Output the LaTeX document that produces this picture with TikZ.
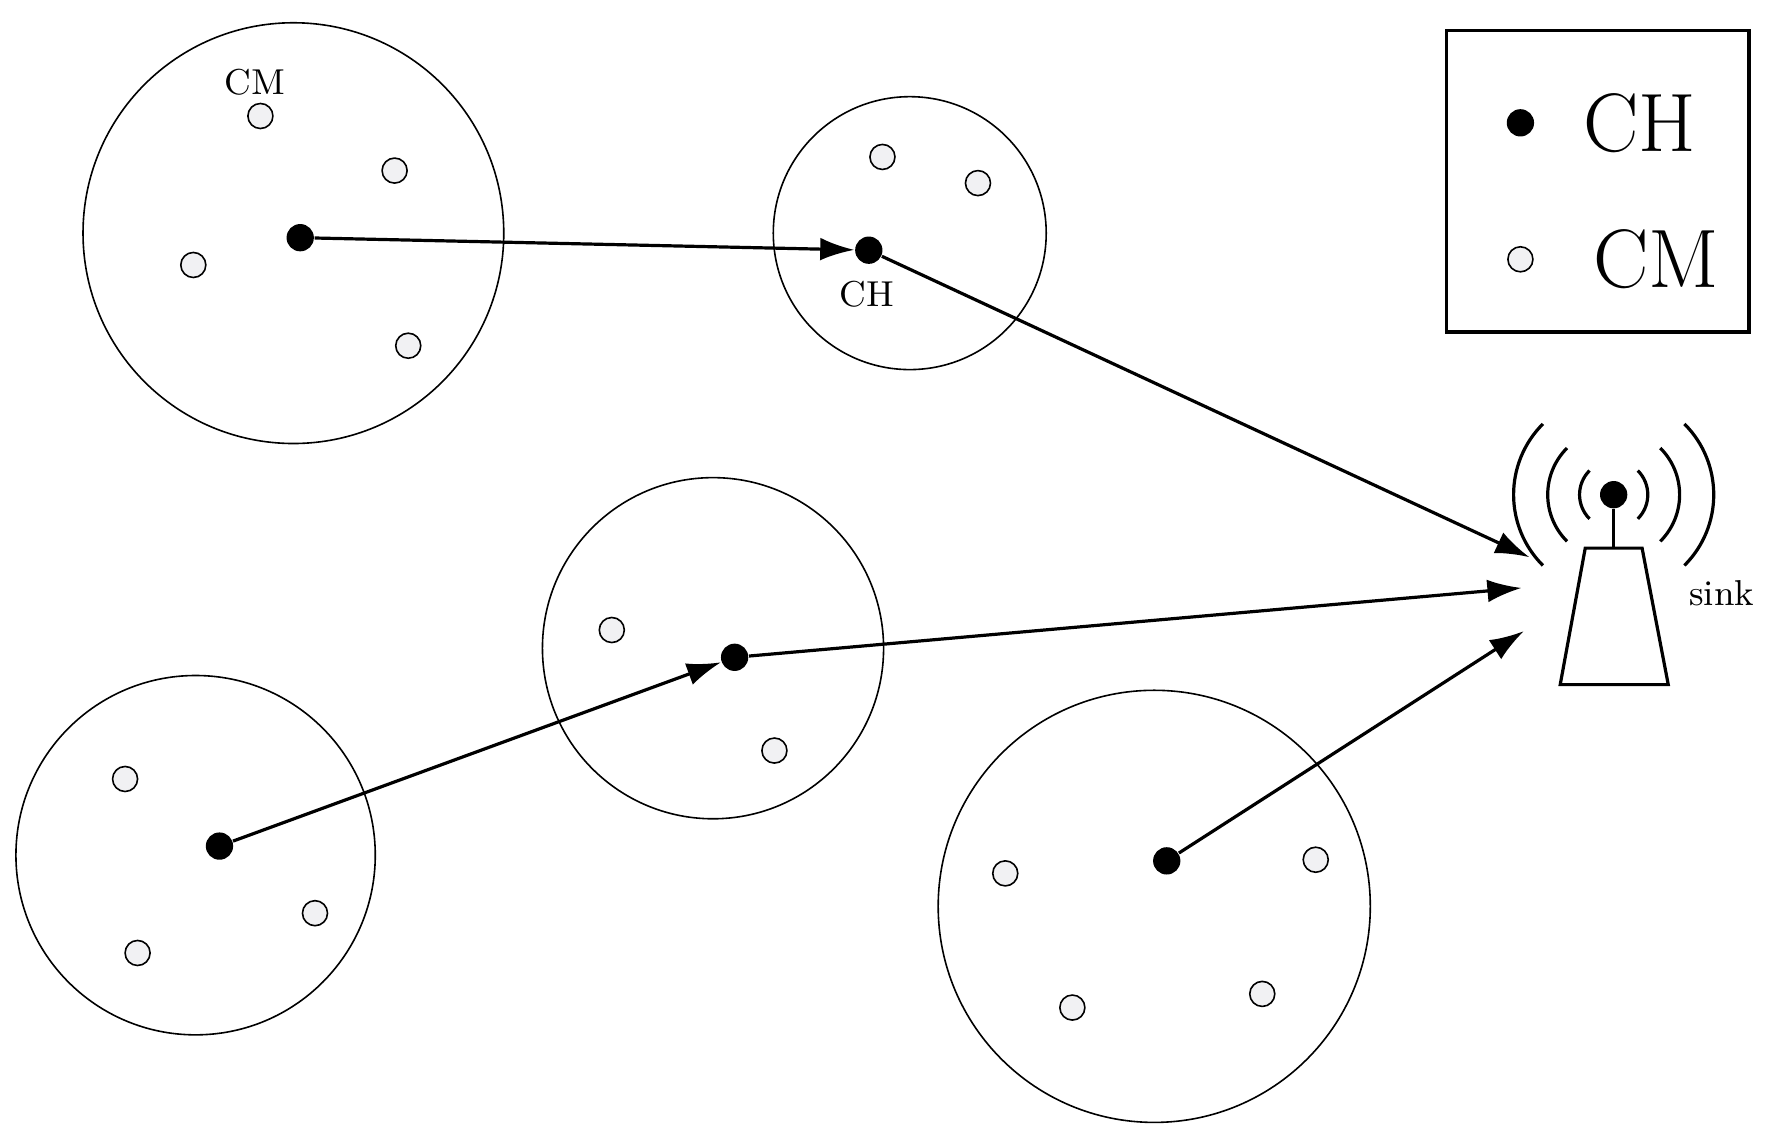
\documentclass[tikz,border=0pt]{standalone}
\usetikzlibrary{arrows.meta}
\begin{document}
\begin{tikzpicture}[x=0.01cm, y=-0.01cm,
    head/.style={circle, fill=black, inner sep=0pt, minimum size=0.24cm},
    member/.style={circle, draw=black, fill=blue!8!gray!10, inner sep=0pt, minimum size=0.22cm},
    link/.style={thick, -{Latex[length=0.3cm, width=0.2cm]}},
    cluster/.style={thin}]
    \useasboundingbox (0,0) rectangle (1560,996);
    % clusters
    \draw[cluster] (258,205) circle (185);
    \draw[cluster] (800,205) circle (120);
    \draw[cluster] (627,570) circle (150);
    \draw[cluster] (172,752) circle (158);
    \draw[cluster] (1015,797) circle (190);
    % cluster heads
    \node[head] (h1) at (264,209) {};
    \node[head] (h2) at (764,220) {};
    \node[head] (h3) at (646,578) {};
    \node[head] (h4) at (193,744) {};
    \node[head] (h5) at (1026,757) {};
    % cluster members
    \foreach \x/\y [count=\i] in {229/102,347/150,170/233,359/304,776/138,860/161,
        538/554,681/660,110/685,277/803,121/838,884/768,1157/756,943/886,1110/874}
        \node[member] (m\i) at (\x,\y) {};
    \node[font=\small] at (224,72) {CM};
    \node[font=\small] at (762,259) {CH};
    % sink
    \node[head] (ant) at (1419,435) {};
    \draw[thick] (ant) -- (1419,482);
    \draw[thick] (1394,482) -- (1444,482) -- (1467,602) -- (1372,602) -- cycle;
    \foreach \r in {30,58,88}
    {
        \draw[thick] (1419,435) ++(135:\r) arc[start angle=135, end angle=225, radius=\r];
        \draw[thick] (1419,435) ++(45:\r) arc[start angle=45, end angle=-45, radius=\r];
    }
    \coordinate (s1) at (1345,490);
    \coordinate (s2) at (1338,517);
    \coordinate (s3) at (1340,555);
    \node[font=\small] at (1514,522) {sink};
    % links
    \draw[link] (h1) -- (h2);
    \draw[link] (h2) -- (s1);
    \draw[link] (h3) -- (s2);
    \draw[link] (h4) -- (h3);
    \draw[link] (h5) -- (s3);
    % legend
    \draw[thick] (1272,27) rectangle (1538,292);
    \node[head] (lch) at (1337,108) {};
    \node[member] (lcm) at (1337,228) {};
    \node[font=\huge, anchor=west] at ([xshift=0.3cm]lch.east) {CH};
    \node[font=\huge, anchor=west] at ([xshift=0.4cm]lcm.east) {CM};
\end{tikzpicture}
\end{document}
